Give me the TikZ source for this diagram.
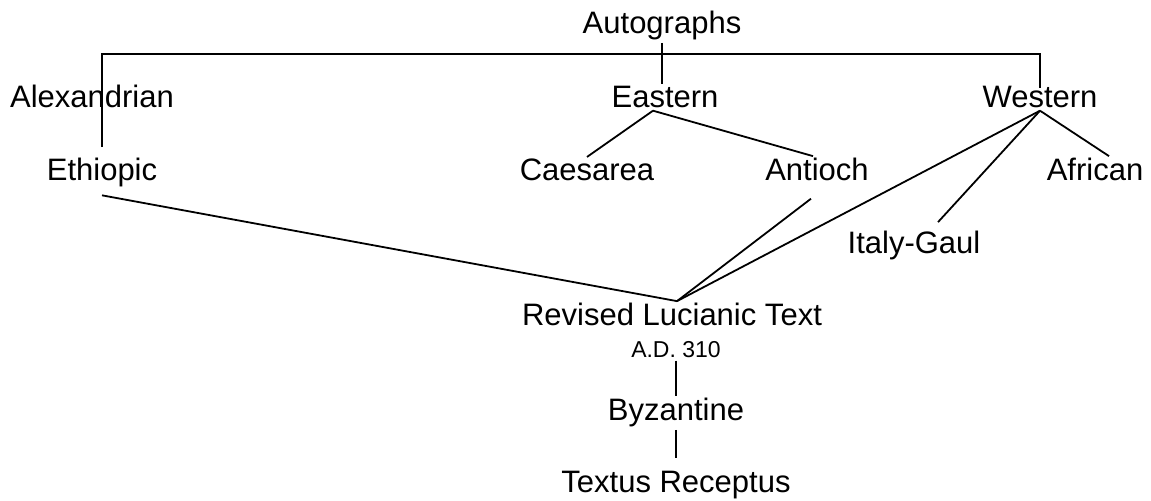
\documentclass[tikz,border=0pt]{standalone}
\usepackage{fontspec}
\setmainfont{Liberation Sans}
\usetikzlibrary{positioning}

\begin{document}
\begin{tikzpicture}[x=0.5pt, y=-0.5pt]
		\tikzstyle{Name}	= [anchor=base, inner sep=1pt, font=\fontsize{15.5}{18}\selectfont]
		\tikzstyle{Date}	= [anchor=base, inner sep=1pt, font=\fontsize{11.5}{13}\selectfont]
		\tikzstyle{Line}	= [black, line width=0.9pt]

		\useasboundingbox (0, 0) rectangle (1151, 501);

		\node (aut) at (662, 34) [Name] {Autographs};
		\node (ale) at (92, 108) [Name] {Alexandrian};
		\node (est) at (665, 108) [Name] {Eastern};
		\node (wes) at (1040, 108) [Name] {Western};
		\node (eth) at (102, 181) [Name] {Ethiopic};
		\node (cae) at (587, 181) [Name] {Caesarea};
		\node (ant) at (817, 181) [Name] {Antioch};
		\node (afr) at (1095, 181) [Name] {African};
		\node (ita) at (914, 254) [Name] {Italy-Gaul};
		\node (rev) at (672, 326) [Name] {Revised Lucianic Text};
		\node (date) at (676, 358) [Date] {A.D. 310};
		\node (byz) at (676, 421) [Name] {Byzantine};
		\node (tr) at (676, 493) [Name] {Textus Receptus};
		\coordinate (bar) at (0, 63);

		\draw [-] (aut.south) to (aut.south |- est.north) [Line];
		\draw [-] ([yshift=4.5pt]eth.north) to ([yshift=4.5pt]eth.north |- bar) -| ([yshift=-2pt]wes.north) [Line];
		\draw [-] ([xshift=-6pt]est.south) to (cae.north) [Line];
		\draw [-] ([xshift=-6pt]est.south) to ([xshift=-2pt]ant.north) [Line];
		\draw [-] (wes.south) to ([xshift=7pt]afr.north) [Line];
		\draw [-] (wes.south) to ([xshift=12pt, yshift=3.5pt]ita.north) [Line];
		\draw [-] (wes.south) to ([xshift=2.5pt]rev.north) [Line];
		\draw [-] ([xshift=-3pt, yshift=-7.5pt]ant.south) to ([xshift=2.5pt]rev.north) [Line];
		\draw [-] ([yshift=-2.75pt]eth.south) to ([xshift=2.5pt]rev.north) [Line];
		\draw [-] (date) to (byz) [Line];
		\draw [-] (byz) to ([yshift=5.5pt]tr.north) [Line];
	\end{tikzpicture}
\end{document}
